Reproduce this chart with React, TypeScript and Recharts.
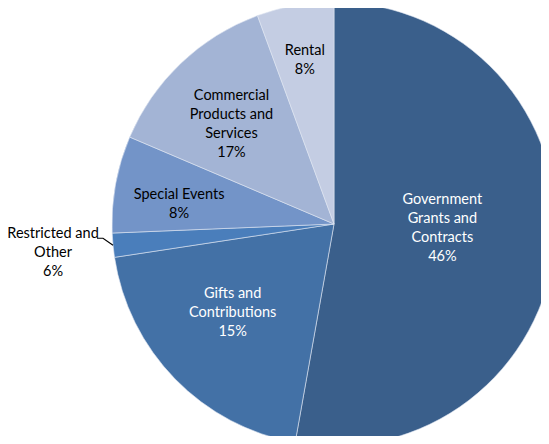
import React from "react";
import { PieChart, Pie, Cell } from "recharts";

// slice sizes as drawn (degrees of arc, in %)
const names = [
  "Government Grants and Contracts",
  "Gifts and Contributions",
  "Restricted and Other",
  "Special Events",
  "Commercial Products and Services",
  "Rental",
];
const sliceValues = [52.8, 19.8, 1.75, 7.05, 13.0, 5.6];
// percentages printed in the data labels
const labelPercents = ["46%", "15%", "6%", "8%", "17%", "8%"];
const labelLines = [
  ["Government", "Grants and", "Contracts"],
  ["Gifts and", "Contributions"],
  ["Restricted and", "Other"],
  ["Special Events"],
  ["Commercial", "Products and", "Services"],
  ["Rental"],
];

const COLORS = ["#3A5F8B", "#4371A6", "#4A7EBB", "#7394C8", "#A3B4D5", "#C4CDE3"];
const TEXT_COLORS = ["#ffffff", "#ffffff", "#000000", "#000000", "#000000", "#000000"];
const LABEL_RADIUS = [0.49, 0.6, 0, 0.7, 0.67, 0.75];
// small nudges so labels sit where the original best-fit put them
const LABEL_NUDGE = [
  [0, -5],
  [-6, -4],
  [-4, -4],
  [-2, 8],
  [0, 8],
  [0, 0],
];
const LINE_H = 19;
const FONT = 14.5;
const RAD = Math.PI / 180;

const data = names.map((name, i) => ({ name, value: sliceValues[i] }));

function renderLabel(props: any) {
  const { cx, cy, midAngle, outerRadius, index } = props;
  const lines = [...labelLines[index], labelPercents[index]];
  const cos = Math.cos(-midAngle * RAD);
  const sin = Math.sin(-midAngle * RAD);
  const [nx, ny] = LABEL_NUDGE[index];
  if (index === 2) {
    // outside label with leader line
    const sx = cx + outerRadius * cos;
    const sy = cy + outerRadius * sin;
    const ex = sx - 10;
    const ey = sy - 7;
    const tx = ex - 46 + nx;
    const ty = ey + ny;
    return (
      <g>
        <polyline
          points={`${sx},${sy} ${ex},${ey} ${ex - 6},${ey}`}
          fill="none"
          stroke="#000"
          strokeWidth={1.2}
        />
        <text
          x={tx}
          y={ty}
          textAnchor="middle"
          fill="#000"
          fontSize={FONT}
          fontFamily="Lato, 'Open Sans', sans-serif"
        >
          {lines.map((l, k) => (
            <tspan key={k} x={tx} dy={k === 0 ? 4 : LINE_H}>
              {l}
            </tspan>
          ))}
        </text>
      </g>
    );
  }
  const r = outerRadius * LABEL_RADIUS[index];
  const x = cx + r * cos + nx;
  const y = cy + r * sin + ny;
  const top = y - ((lines.length - 1) * LINE_H) / 2 + 4;
  return (
    <text
      x={x}
      y={top}
      textAnchor="middle"
      fill={TEXT_COLORS[index]}
      fontSize={FONT}
      fontFamily="Lato, 'Open Sans', sans-serif"
    >
      {lines.map((l, k) => (
        <tspan key={k} x={x} dy={k === 0 ? 0 : LINE_H}>
          {l}
        </tspan>
      ))}
    </text>
  );
}

export default function App() {
  return (
    <div style={{ width: 549, height: 444, margin: -8, background: "#fff", overflow: "hidden" }}>
      <PieChart width={549} height={444} margin={{ top: 0, right: 0, bottom: 0, left: 0 }}>
        <Pie
          data={data}
          dataKey="value"
          nameKey="name"
          cx={334}
          cy={224}
          outerRadius={222}
          startAngle={90}
          endAngle={-270}
          stroke="#dfe6f1"
          strokeWidth={0.6}
          label={renderLabel}
          labelLine={false}
          isAnimationActive={false}
        >
          {data.map((_, i) => (
            <Cell key={i} fill={COLORS[i]} />
          ))}
        </Pie>
      </PieChart>
    </div>
  );
}
